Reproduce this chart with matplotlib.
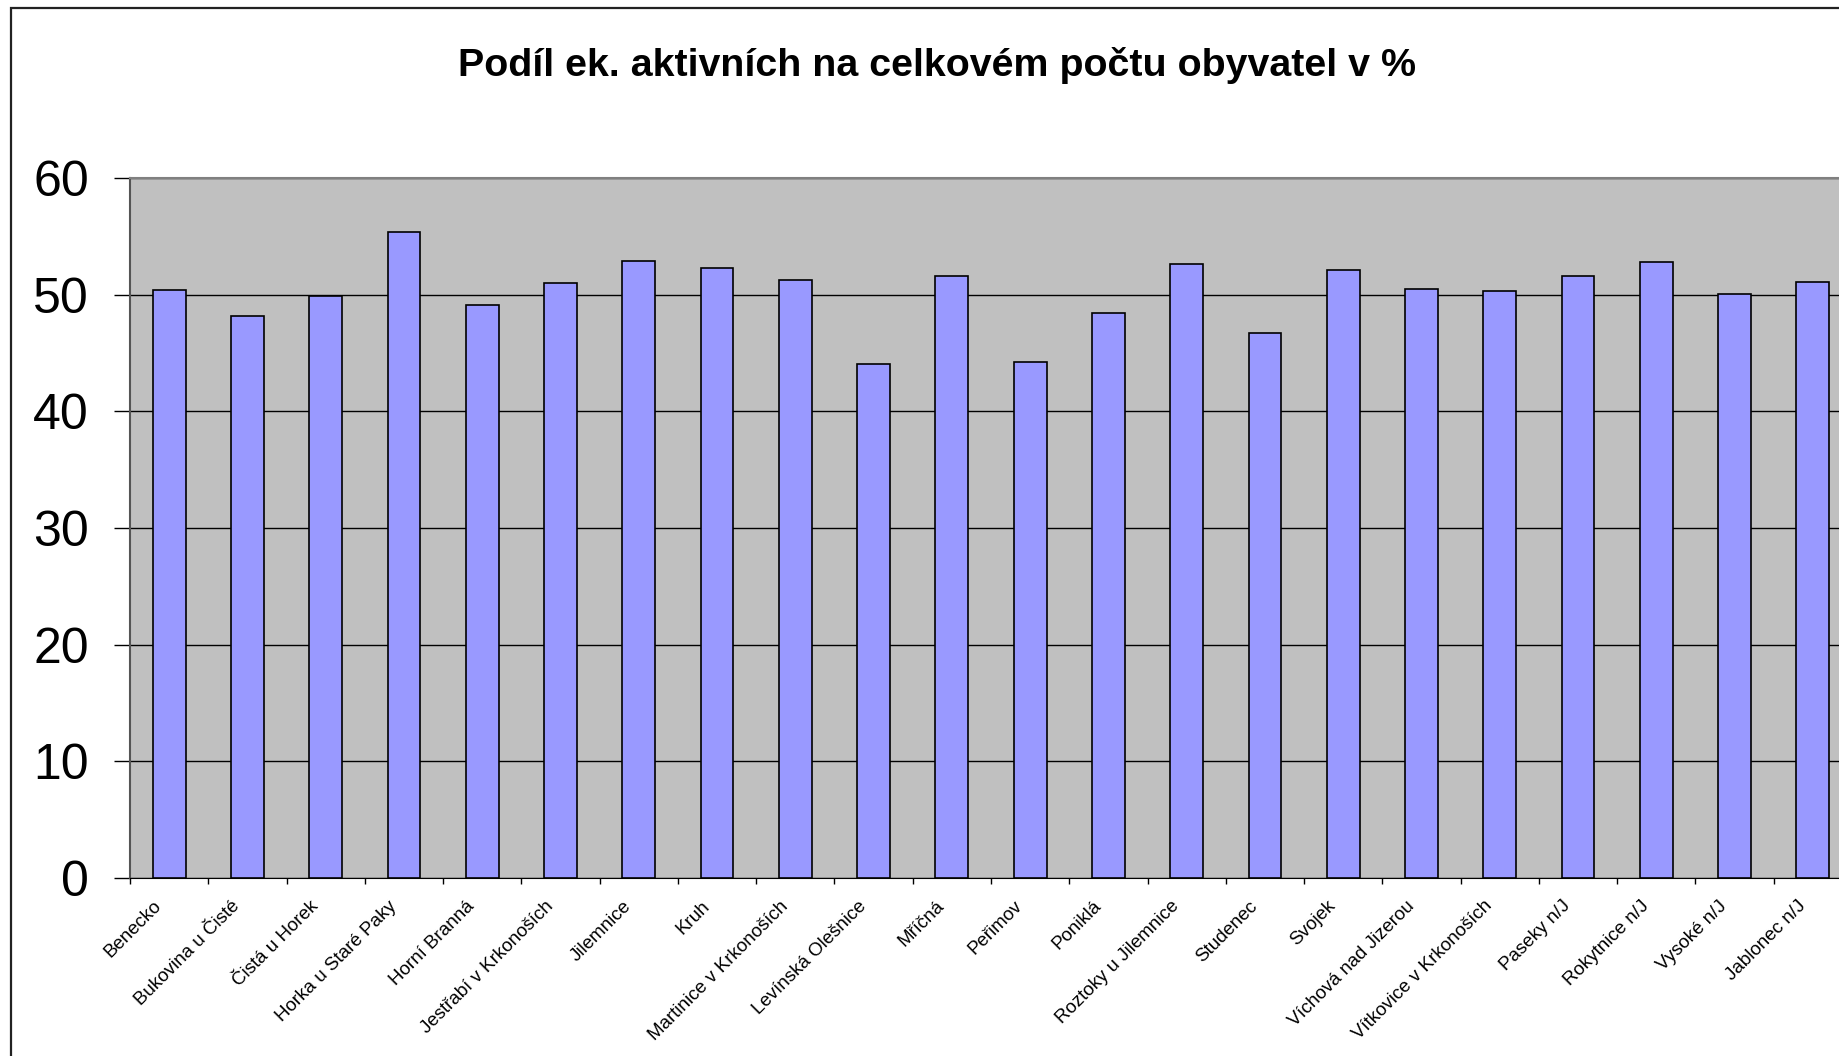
import matplotlib
matplotlib.use('Agg')
import matplotlib.pyplot as plt
import matplotlib.transforms as mtransforms
import numpy as np
from matplotlib.patches import Rectangle

plt.rcParams['font.family'] = ['Liberation Sans', 'DejaVu Sans']

obce = ['Benecko', 'Bukovina u Čisté', 'Čistá u Horek', 'Horka u Staré Paky',
        'Horní Branná', 'Jestřabí v Krkonoších', 'Jilemnice', 'Kruh',
        'Martinice v Krkonoších', 'Levínská Olešnice', 'Mříčná', 'Peřimov',
        'Poniklá', 'Roztoky u Jilemnice', 'Studenec', 'Svojek',
        'Víchová nad Jizerou', 'Vítkovice v Krkonoších', 'Paseky n/J',
        'Rokytnice n/J', 'Vysoké n/J', 'Jablonec n/J']
podil = [50.4, 48.2, 49.9, 55.4, 49.1, 51.0, 52.9, 52.3, 51.3, 44.1, 51.6,
         44.2, 48.4, 52.6, 46.7, 52.1, 50.5, 50.3, 51.6, 52.8, 50.1, 51.1]
yticks = [0, 10, 20, 30, 40, 50, 60]

W, H = 1840, 1056
fig = plt.figure(figsize=(W / 100, H / 100), dpi=100)

# outer chart frame (right and bottom edge fall outside the picture)
fig.patches.append(Rectangle((11 / W, -0.05), 1.2, 1 - 8 / H + 0.05,
                             transform=fig.transFigure, fill=False,
                             edgecolor='#222222', linewidth=1.6))

ax = fig.add_axes([130 / W, 1 - 878 / H, 1722 / W, 700 / H])
ax.set_facecolor('#C0C0C0')

x = np.arange(len(obce))
ax.set_axisbelow(True)
ax.yaxis.grid(True, color='black', linewidth=1.0)
ax.bar(x, podil, width=0.42, color='#9999FF', edgecolor='black', linewidth=1.2, zorder=3)

ax.set_xlim(-0.5, len(obce) - 0.5)
ax.set_ylim(0, 60)
ax.set_yticks(yticks)
ax.tick_params(axis='y', labelsize=36, length=11.5, width=1.0, pad=18)

ax.set_xticks(x)
ax.set_xticklabels(obce, rotation=45, ha='right', va='top', rotation_mode='anchor', fontsize=13.5)
ax.tick_params(axis='x', which='major', length=0, pad=14)
shift = mtransforms.ScaledTranslation(-16 / 100, 0, fig.dpi_scale_trans)
for lab in ax.get_xticklabels():
    lab.set_transform(lab.get_transform() + shift)
ax.set_xticks(np.arange(len(obce) + 1) - 0.5, minor=True)
ax.tick_params(axis='x', which='minor', length=4, width=1.0)

for s in ['top', 'right']:
    ax.spines[s].set_color('#808080')
    ax.spines[s].set_linewidth(1.5)
ax.spines['left'].set_color('#555555')
ax.spines['left'].set_linewidth(1.5)
ax.spines['bottom'].set_color('black')

fig.text(937 / W, 1 - 65 / H, 'Podíl ek. aktivních na celkovém počtu obyvatel v %',
         ha='center', va='center', fontsize=28.4, fontweight='bold')

fig.savefig('out.png', dpi=100)
